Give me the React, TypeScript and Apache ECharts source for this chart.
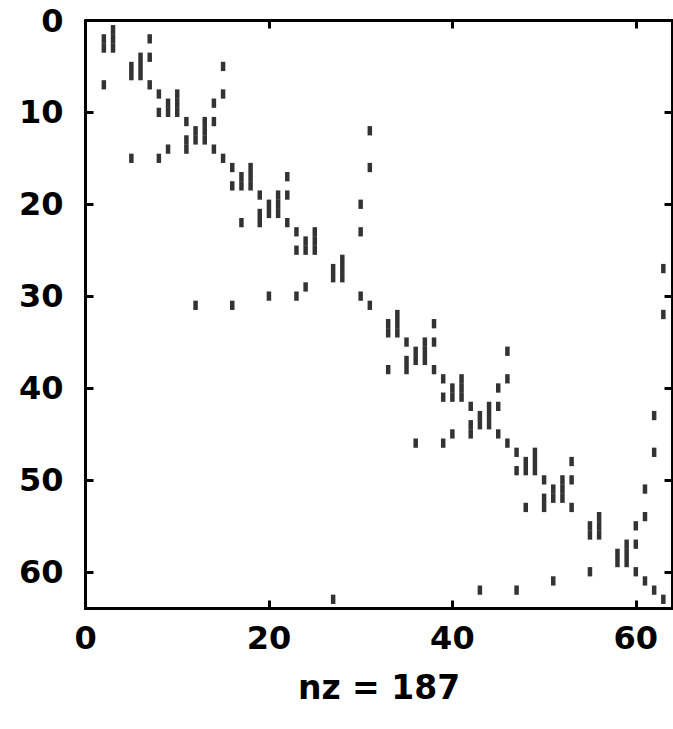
import React, { useEffect, useRef } from "react";
import * as echarts from "echarts";

// Non-zero entries of the sparse matrix, as [row, column] pairs.
const blockA: number[][] = [
  [2, 2], [3, 2], [1, 3], [2, 3], [3, 3], [2, 7], [7, 2],
  [5, 5], [6, 5], [4, 6], [5, 6], [6, 6], [4, 7], [7, 7],
];
const blockB: number[][] = [
  [8, 8], [10, 8], [9, 9], [10, 9], [8, 10], [9, 10], [10, 10],
  [11, 11], [13, 11], [12, 12], [13, 12], [11, 13], [12, 13], [13, 13],
  [14, 14], [15, 15],
  [5, 15], [15, 5], [8, 15], [15, 8], [9, 14], [14, 9], [11, 14], [14, 11],
];
const blockC: number[][] = [
  [16, 16], [18, 16], [17, 17], [18, 17], [16, 18], [17, 18], [18, 18],
  [17, 22], [22, 17],
  [19, 19], [21, 19], [20, 20], [21, 20], [19, 21], [20, 21], [21, 21],
  [19, 22], [22, 19], [22, 22],
  [23, 23], [25, 23], [24, 24], [25, 24], [23, 25], [24, 25], [25, 25],
  [20, 30], [30, 20], [23, 30], [30, 23],
  [27, 27], [28, 27], [26, 28], [27, 28], [28, 28], [29, 24],
  [12, 31], [31, 12], [16, 31], [31, 16], [30, 30], [31, 31],
];
const blockD: number[][] = [
  [27, 63], [63, 27], [32, 63],
  [33, 33], [34, 33], [32, 34], [33, 34], [34, 34], [33, 38], [38, 33],
  [35, 35], [37, 35], [36, 36], [37, 36], [35, 37], [36, 37], [37, 37],
  [35, 38], [38, 35], [38, 38],
  [36, 46], [46, 36], [39, 46], [46, 39], [40, 45], [45, 40], [42, 45], [45, 42],
  [39, 39], [41, 39], [40, 40], [41, 40], [39, 41], [40, 41], [41, 41],
  [42, 42], [44, 42], [43, 43], [44, 43], [42, 44], [43, 44], [44, 44],
  [45, 45], [46, 46],
];
const blockE: number[][] = [
  [47, 47], [49, 47], [48, 48], [49, 48], [47, 49], [48, 49], [49, 49],
  [43, 62], [62, 43], [47, 62], [62, 47], [48, 53], [53, 48],
  [50, 50], [52, 50], [51, 51], [52, 51], [50, 52], [51, 52], [52, 52],
  [50, 53], [53, 50], [53, 53],
  [51, 61], [61, 51], [54, 61], [55, 60], [60, 55],
  [55, 55], [56, 55], [54, 56], [55, 56], [56, 56],
  [58, 58], [59, 58], [57, 59], [58, 59], [59, 59], [57, 60],
  [60, 60], [61, 61], [62, 62], [63, 63],
];

const xTicks = [0, 20, 40, 60];
const yTicks = [0, 10, 20, 30, 40, 50, 60];
const nzLabel = "nz = 187";

const FONT = "DejaVu Sans";

export default function App() {
  const ref = useRef<HTMLDivElement>(null);
  useEffect(() => {
    if (!ref.current) return;
    const chart = echarts.init(ref.current, null, { renderer: "svg" });
    const pts = [...blockA, ...blockB, ...blockC, ...blockD, ...blockE].map(
      ([r, c]) => [c, r]
    );
    const lineStyle = { color: "#000", width: 3 };
    const tickStyle = { color: "#000", width: 3 };
    const labelStyle = {
      color: "#000",
      fontSize: 32,
      fontWeight: "bold" as const,
      fontFamily: FONT,
    };
    const frameAxis = {
      type: "value" as const,
      min: 0,
      max: 64,
      axisLine: { show: true, onZero: false, lineStyle },
      axisTick: { show: true, inside: true, length: 8, lineStyle: tickStyle },
      splitLine: { show: false },
    };
    chart.setOption({
      animation: false,
      backgroundColor: "#fff",
      grid: { left: 85.5, top: 20.5, width: 587, height: 588 },
      xAxis: [
        {
          ...frameAxis,
          interval: 20,
          position: "bottom",
          axisLabel: {
            ...labelStyle,
            margin: 13,
            showMaxLabel: false,
            formatter: (v: number) => (xTicks.includes(v) ? String(v) : ""),
          },
          name: nzLabel,
          nameLocation: "middle",
          nameGap: 62,
          nameTextStyle: { ...labelStyle, fontSize: 33 },
        },
        {
          ...frameAxis,
          interval: 20,
          position: "top",
          axisLabel: { show: false },
        },
      ],
      yAxis: [
        {
          ...frameAxis,
          inverse: true,
          interval: 10,
          position: "left",
          axisLabel: {
            ...labelStyle,
            margin: 22,
            showMaxLabel: false,
            formatter: (v: number) => (yTicks.includes(v) ? String(v) : ""),
          },
        },
        {
          ...frameAxis,
          inverse: true,
          interval: 10,
          position: "right",
          axisLabel: { show: false },
        },
      ],
      series: [
        {
          type: "scatter",
          xAxisIndex: 0,
          yAxisIndex: 0,
          data: pts,
          symbol: "rect",
          symbolSize: [4.5, 9.3],
          itemStyle: { color: "#000" },
          silent: true,
        },
      ],
    });
    return () => chart.dispose();
  }, []);
  return (
    <div
      ref={ref}
      style={{ position: "absolute", left: 0, top: 0, width: 673, height: 729 }}
    />
  );
}
